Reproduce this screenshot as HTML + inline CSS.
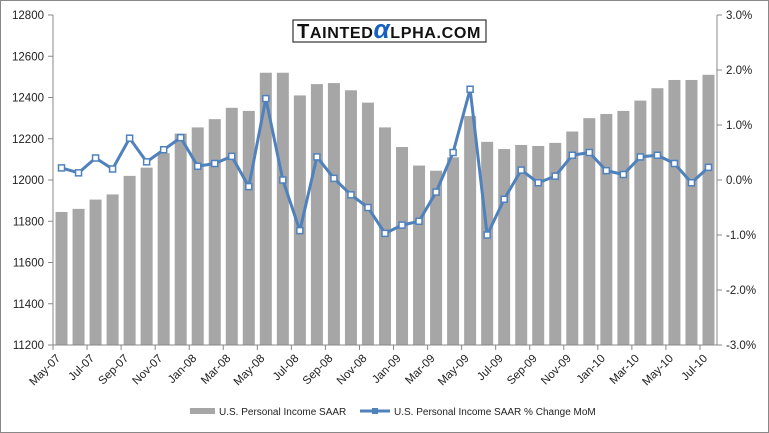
<!DOCTYPE html>
<html><head><meta charset="utf-8"><style>
body{margin:0;background:#fff}
svg{display:block;font-family:"Liberation Sans",sans-serif}
</style></head><body>
<svg id="s" width="769" height="433" xmlns="http://www.w3.org/2000/svg">
<rect x="0.5" y="0.5" width="768" height="432" fill="#fff" stroke="#888"/>
</svg>
<script>
const s=document.getElementById('s');const NS='http://www.w3.org/2000/svg';
function el(t,a,txt){const e=document.createElementNS(NS,t);for(const k in a)e.setAttribute(k,a[k]);if(txt!==undefined)e.textContent=txt;s.appendChild(e);return e;}
const L=53,R=717,T=15,B=345,n=39,w=(R-L)/n;
const bars=[11845,11860,11905,11930,12020,12060,12130,12225,12255,12295,12350,12335,12520,12520,12410,12465,12470,12435,12375,12255,12160,12070,12045,12110,12310,12185,12150,12170,12165,12180,12235,12300,12320,12335,12385,12445,12485,12485,12510];
const pct=[0.22,0.13,0.4,0.2,0.76,0.33,0.55,0.77,0.25,0.3,0.43,-0.12,1.48,0,-0.92,0.42,0.03,-0.27,-0.5,-0.97,-0.82,-0.75,-0.22,0.5,1.65,-1.0,-0.35,0.18,-0.05,0.07,0.45,0.5,0.17,0.1,0.42,0.45,0.3,-0.05,0.23];
const yL=v=>B-(v-11200)/1600*(B-T), yR=v=>180-v*55;
bars.forEach((v,i)=>{const x=L+i*w+w/2;el('rect',{x:x-6,y:yL(v),width:12,height:B-yL(v),fill:'#a6a6a6'});});
el('line',{x1:L,y1:T,x2:L,y2:B,stroke:'#888'});el('line',{x1:R,y1:T,x2:R,y2:B,stroke:'#888'});el('line',{x1:L,y1:B,x2:R,y2:B,stroke:'#888'});
for(let i=0;i<=8;i++){const y=T+i*(B-T)/8;el('line',{x1:L-5,y1:y,x2:L,y2:y,stroke:'#888'});el('text',{x:L-9,y:y+4,'font-size':11.5,'text-anchor':'end',fill:'#222'},String(12800-i*200));}
for(let i=0;i<=6;i++){const y=T+i*55;el('line',{x1:R,y1:y,x2:R+5,y2:y,stroke:'#888'});el('text',{x:R+9,y:y+4,'font-size':11.5,fill:'#222'},(3-i).toFixed(1)+'%');}
const mo=['Jan','Feb','Mar','Apr','May','Jun','Jul','Aug','Sep','Oct','Nov','Dec'];
for(let i=0;i<n;i+=2){const x=L+i*w;el('line',{x1:x,y1:B,x2:x,y2:B+5,stroke:'#888'});const m=(4+i)%12,yr=7+Math.floor((4+i)/12);
el('text',{x:x+8,y:B+14,'font-size':11.5,'text-anchor':'end',fill:'#222',transform:`rotate(-45 ${x+8} ${B+14})`},mo[m]+'-'+String(yr).padStart(2,'0'));}
const pts=pct.map((v,i)=>[L+i*w+w/2,yR(v)]);
el('polyline',{points:pts.map(p=>p.join(',')).join(' '),fill:'none',stroke:'#4f81bd','stroke-width':3,'stroke-linejoin':'round'});
pts.forEach(p=>el('rect',{x:p[0]-3,y:p[1]-3,width:6,height:6,fill:'#fff',stroke:'#4f81bd','stroke-width':1.5}));
el('rect',{x:293,y:20,width:193,height:22,fill:'#fff',stroke:'#333','stroke-width':1.2});
const t=el('text',{x:389,y:38,'font-size':20,'font-weight':'bold','text-anchor':'middle',fill:'#111','letter-spacing':'0.6',textLength:'184',lengthAdjust:'spacingAndGlyphs'});
t.innerHTML='T<tspan font-size="16">AINTED</tspan><tspan fill="#1560c0" font-size="26" font-style="italic">α</tspan><tspan font-size="16">LPHA.COM</tspan>';
el('rect',{x:190,y:408,width:25,height:6,fill:'#a6a6a6'});
el('text',{x:219,y:415,'font-size':10,fill:'#222'},'U.S. Personal Income SAAR');
el('line',{x1:360,y1:411,x2:390,y2:411,stroke:'#4f81bd','stroke-width':3});
el('rect',{x:372,y:408,width:6,height:6,fill:'#4f81bd'});
el('text',{x:394,y:415,'font-size':10,fill:'#222'},'U.S. Personal Income SAAR % Change MoM');
</script>
</body></html>
